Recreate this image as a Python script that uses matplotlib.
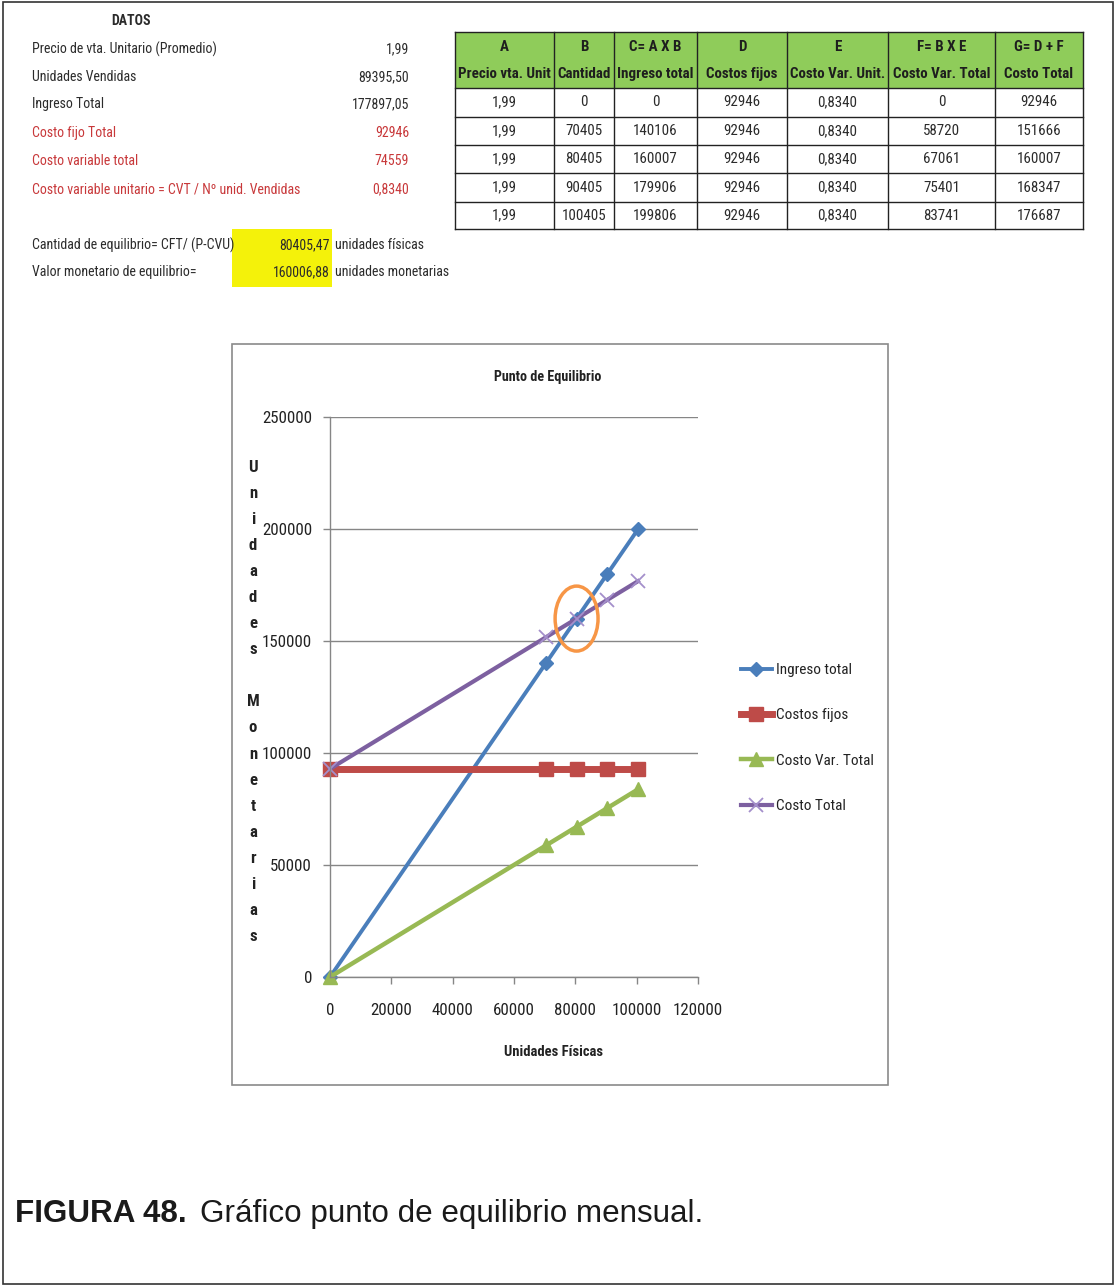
import matplotlib
matplotlib.use("Agg")
import matplotlib.pyplot as plt
from matplotlib import font_manager
from matplotlib.patches import Rectangle, Ellipse

# ---------------- data ----------------
datos_labels = [
    "Precio de vta. Unitario (Promedio)",
    "Unidades Vendidas",
    "Ingreso Total",
    "Costo fijo Total",
    "Costo variable total",
    "Costo variable unitario = CVT / Nº unid. Vendidas",
]
datos_values = ["1,99", "89395,50", "177897,05", "92946", "74559", "0,8340"]
datos_red = [False, False, False, True, True, True]

cantidad_equilibrio = 80405.47
valor_equilibrio = 160006.88

header_top = ["A", "B", "C= A X B", "D", "E", "F= B X E", "G= D + F"]
header_bottom = ["Precio vta. Unit", "Cantidad", "Ingreso total", "Costos fijos",
                 "Costo Var. Unit.", "Costo Var. Total", "Costo Total"]

precio = [1.99, 1.99, 1.99, 1.99, 1.99]
cantidad = [0, 70405, 80405, 90405, 100405]
ingreso_total = [0, 140106, 160007, 179906, 199806]
costos_fijos = [92946, 92946, 92946, 92946, 92946]
costo_var_unit = [0.8340, 0.8340, 0.8340, 0.8340, 0.8340]
costo_var_total = [0, 58720, 67061, 75401, 83741]
costo_total = [92946, 151666, 160007, 168347, 176687]

series_names = ["Ingreso total", "Costos fijos", "Costo Var. Total", "Costo Total"]
x_ticks = [0, 20000, 40000, 60000, 80000, 100000, 120000]
y_ticks = [0, 50000, 100000, 150000, 200000, 250000]

# ---------------- fonts ----------------
fonts = font_manager.fontManager.ttflist


def _weight(f):
    try:
        return int(f.weight)
    except (TypeError, ValueError):
        return 700 if "bold" in str(f.weight).lower() else 400


def pick(candidates, fallback):
    present = [c for c in candidates if any(f.name == c for f in fonts)]
    for c in present:
        ws = {_weight(f) for f in fonts if f.name == c}
        if any(w <= 450 for w in ws) and any(w >= 600 for w in ws):
            return c
    return present[0] if present else fallback


SANS = pick(["Liberation Sans", "Arimo"], "DejaVu Sans")
NARROW = pick(["Liberation Sans Narrow", "Arial Narrow", "Roboto Condensed", "PT Sans Narrow",
               "Archivo Narrow", "Asap Condensed", "Sofia Sans Condensed",
               "Fira Sans Condensed", "IBM Plex Sans Condensed", "Barlow Condensed"], SANS)
CHART = NARROW
plt.rcParams["font.family"] = [NARROW, "DejaVu Sans"]

W, H = 1117, 1288
fig = plt.figure(figsize=(W / 100, H / 100), dpi=100)
renderer = fig.canvas.get_renderer()


def fit_size(s, target_px, family, weight="normal"):
    t = fig.text(0, 0, s, fontsize=10, family=[family, "DejaVu Sans"], fontweight=weight)
    w = t.get_window_extent(renderer).width
    t.remove()
    return 10 * target_px / w


DATA_FS = fit_size("Precio de vta. Unitario (Promedio)", 179, NARROW) * 1.03
HEAD_FS = fit_size("Precio vta. Unit", 93, NARROW, "bold")
CELL_FS = fit_size("100405", 40, NARROW) * 1.1
LEG_FS = fit_size("Ingreso total", 72, CHART) * 1.05
TICK_FS = fit_size("250000", 47, CHART) * 1.05
TITLE_FS = fit_size("Punto de Equilibrio", 108, CHART, "bold")
XLAB_FS = fit_size("Unidades Físicas", 99, CHART, "bold")
CAP_FS = (fit_size("Gráfico punto de equilibrio mensual.", 505, SANS)
          + fit_size("FIGURA 48.", 172, SANS, "bold")) / 2


def fx(x):
    return x / W


def fy(y):
    return 1 - y / H


def fmt(v, dec=0):
    return f"{v:.{dec}f}".replace(".", ",")


def ftext(x, y, s, family=NARROW, **kw):
    return fig.text(fx(x), fy(y), s, family=[family, "DejaVu Sans"], **kw)


def frect(x0, y0, x1, y1, **kw):
    fig.patches.append(Rectangle((fx(x0), fy(y1)), fx(x1) - fx(x0), fy(y0) - fy(y1),
                                 transform=fig.transFigure, figure=fig, **kw))


# outer frame
frect(3, 2, 1113, 1284, fill=False, edgecolor="#333333", linewidth=1.2)

# ---------------- DATOS panel ----------------
TXT = "#2b2b2b"
RED = "#c8383a"
ftext(131, 21, "DATOS", ha="center", va="center", fontsize=DATA_FS, fontweight="bold", color=TXT)
row_y = [49, 77, 104, 133, 161, 189]
for lab, val, red, y in zip(datos_labels, datos_values, datos_red, row_y):
    c = RED if red else TXT
    ftext(32, y, lab, ha="left", va="center", fontsize=DATA_FS, color=c)
    ftext(409, y, val, ha="right", va="center", fontsize=DATA_FS, color=c)

frect(232, 229, 332, 287, facecolor="#f4f20a", edgecolor="none")
ftext(32, 245, "Cantidad de equilibrio= CFT/ (P-CVU)", ha="left", va="center",
      fontsize=DATA_FS, color=TXT)
ftext(32, 272, "Valor monetario de equilibrio=", ha="left", va="center",
      fontsize=DATA_FS, color=TXT)
ftext(330, 245, fmt(cantidad_equilibrio, 2), ha="right", va="center", fontsize=DATA_FS, color=TXT)
ftext(330, 272, fmt(valor_equilibrio, 2), ha="right", va="center", fontsize=DATA_FS, color=TXT)
ftext(335, 245, "unidades físicas", ha="left", va="center", fontsize=DATA_FS, color=TXT)
ftext(335, 272, "unidades monetarias", ha="left", va="center", fontsize=DATA_FS, color=TXT)

# ---------------- table ----------------
col_edges = [455, 554, 614, 697, 787, 888, 995, 1083]
head_y0, head_y1 = 32, 88
row_edges = [88, 117, 145, 173, 202, 229]
frect(col_edges[0], head_y0, col_edges[-1], head_y1, facecolor="#8fcc5a", edgecolor="none")
columns = [
    [fmt(v, 2) for v in precio],
    [fmt(v) for v in cantidad],
    [fmt(v) for v in ingreso_total],
    [fmt(v) for v in costos_fijos],
    [fmt(v, 4) for v in costo_var_unit],
    [fmt(v) for v in costo_var_total],
    [fmt(v) for v in costo_total],
]
for j in range(len(col_edges) - 1):
    cx = (col_edges[j] + col_edges[j + 1]) / 2
    ftext(cx, 47, header_top[j], ha="center", va="center", fontsize=HEAD_FS,
          fontweight="bold", color="#1e1e1e")
    ftext(cx, 74, header_bottom[j], ha="center", va="center", fontsize=HEAD_FS,
          fontweight="bold", color="#1e1e1e")
    for i, s in enumerate(columns[j]):
        cy = (row_edges[i] + row_edges[i + 1]) / 2
        ftext(cx, cy, s, ha="center", va="center", fontsize=CELL_FS, color=TXT)
for x in col_edges:
    fig.add_artist(plt.Line2D([fx(x), fx(x)], [fy(head_y0), fy(row_edges[-1])],
                              color="#222222", linewidth=1.0, transform=fig.transFigure))
for y in [head_y0] + row_edges:
    fig.add_artist(plt.Line2D([fx(col_edges[0]), fx(col_edges[-1])], [fy(y), fy(y)],
                              color="#222222", linewidth=1.0, transform=fig.transFigure))

# ---------------- chart ----------------
frect(232, 344, 888, 1085, fill=False, edgecolor="#8a8a8a", linewidth=1.2)

ax = fig.add_axes([fx(330), fy(977), fx(698) - fx(330), fy(417) - fy(977)])
GRID = "#868686"
ax.set_xlim(x_ticks[0], x_ticks[-1])
ax.set_ylim(y_ticks[0], y_ticks[-1])
ax.set_xticks(x_ticks)
ax.set_yticks(y_ticks)
ax.yaxis.grid(True, color=GRID, linewidth=1.0)
ax.set_axisbelow(True)
for side in ["top", "right"]:
    ax.spines[side].set_visible(False)
for side in ["left", "bottom"]:
    ax.spines[side].set_color(GRID)
    ax.spines[side].set_linewidth(1.0)
ax.tick_params(axis="both", colors=GRID, length=5, width=1.0, labelsize=TICK_FS,
               labelcolor="#222222")
ax.tick_params(axis="x", pad=14)
ax.tick_params(axis="y", pad=8)
for lbl in ax.get_xticklabels() + ax.get_yticklabels():
    lbl.set_family([CHART, "DejaVu Sans"])
ax.set_facecolor("none")

BLUE, REDC, GREEN, PURPLE = "#4a7ebb", "#be4b48", "#98b954", "#7d60a0"
ax.plot(cantidad, ingreso_total, color=BLUE, linewidth=2.8, marker="D", markersize=7.5,
        label=series_names[0], clip_on=False)
ax.plot(cantidad, costos_fijos, color=REDC, linewidth=5, marker="s", markersize=10,
        label=series_names[1], clip_on=False)
ax.plot(cantidad, costo_var_total, color=GREEN, linewidth=3.2, marker="^", markersize=9.5,
        label=series_names[2], clip_on=False)
ax.plot(cantidad, costo_total, color=PURPLE, linewidth=3.0, marker="x", markersize=10,
        markeredgewidth=1.3, markeredgecolor="#a48fcb", label=series_names[3], clip_on=False)

ax.add_patch(Ellipse((cantidad_equilibrio, valor_equilibrio), 14000, 29000, fill=False,
                     edgecolor="#f79646", linewidth=2.5, zorder=5))

leg_px = LEG_FS * 100 / 72
leg = ax.legend(loc="center left", bbox_to_anchor=(fx(743) - 0.002, fy(738)),
                bbox_transform=fig.transFigure, frameon=False,
                prop={"family": [CHART, "DejaVu Sans"], "size": LEG_FS},
                handlelength=31 / leg_px, handletextpad=0.25,
                labelspacing=max(0.3, (44.3 - 0.85 * leg_px) / leg_px), borderpad=0,
                borderaxespad=0)
for t in leg.get_texts():
    t.set_color("#222222")

ftext(548, 377, "Punto de Equilibrio", family=CHART, ha="center", va="center",
      fontsize=TITLE_FS, fontweight="bold", color="#222222")
ftext(554, 1052, "Unidades Físicas", family=CHART, ha="center", va="center",
      fontsize=XLAB_FS, fontweight="bold", color="#222222")
ylab = "Unidades Monetarias"
for i, ch in enumerate(ylab):
    ftext(253, 467 + i * 26.1, ch, family=CHART, ha="center", va="center",
          fontsize=XLAB_FS * 1.15, fontweight="bold", color="#222222")

# ---------------- caption ----------------
ftext(15, 1222, "FIGURA 48.", family=SANS, ha="left", va="baseline", fontsize=CAP_FS,
      fontweight="bold", color="#1a1a1a")
ftext(200, 1222, "Gráfico punto de equilibrio mensual.", family=SANS, ha="left",
      va="baseline", fontsize=CAP_FS, color="#1a1a1a")

fig.savefig("out.png", dpi=100, facecolor="white")
